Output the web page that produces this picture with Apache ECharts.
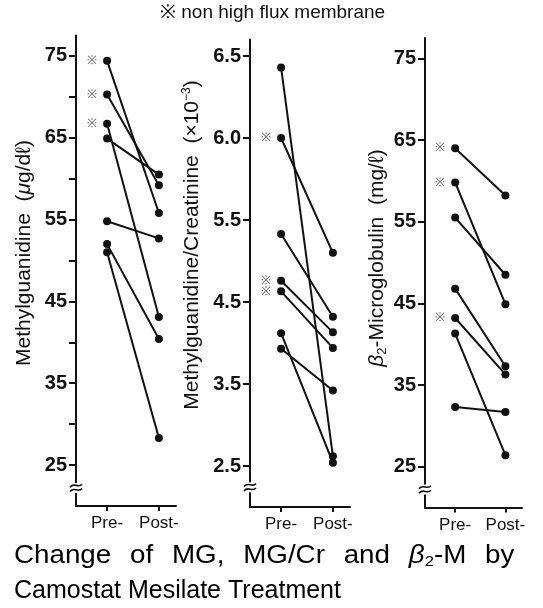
<!DOCTYPE html>
<html><head><meta charset="utf-8">
<script src="https://cdn.jsdelivr.net/npm/echarts@6.0.0/dist/echarts.min.js"></script>
<style>html,body{margin:0;padding:0;background:#fff}#c{width:543px;height:608px}</style>
</head><body><div id="c"></div>
<script>
// ---- data ----
const timeLabels = ['Pre-', 'Post-'];

const mgPre  = [74.4, 70.3, 66.7, 64.9, 54.8, 52.0, 51.0];
const mgPost = [55.8, 59.2, 43.1, 60.5, 52.7, 40.4, 28.3];
const mgFlag = [1, 1, 1, 0, 0, 0, 0];
const mgLabelTicks = [25, 35, 45, 55, 65, 75];
const mgAllTicks = [25, 30, 35, 40, 45, 50, 55, 60, 65, 70, 75];

const crPre  = [6.43, 6.00, 5.33, 4.76, 4.63, 4.12, 3.93];
const crPost = [2.62, 5.10, 4.32, 4.13, 3.94, 2.54, 3.42];
const crFlag = [0, 1, 0, 1, 1, 0, 0];
const crTickLabels = ['2.5', '3.5', '4.5', '5.5', '6.0', '6.5'];

const b2Pre  = [64.0, 59.8, 55.5, 46.8, 43.2, 41.3, 32.3];
const b2Post = [58.2, 44.9, 48.5, 37.3, 36.3, 26.4, 31.7];
const b2Flag = [1, 1, 0, 0, 1, 0, 0];
const b2LabelTicks = [25, 35, 45, 55, 65, 75];

// the MG/Cr axis is drawn with equal spacing between printed labels
function crToAxis(v) { return v >= 5.5 ? 3 + (v - 5.5) / 0.5 : 2 + (v - 4.5); }

const FONT = '"Liberation Sans", Arial, sans-serif';
const NARROW = '"Liberation Sans Narrow", "Liberation Sans", Arial, sans-serif';
const INK = '#111';

const chart = echarts.init(document.getElementById('c'));

const grids = [
  { left: 76, width: 100, top: 35.5, height: 470.4 },
  { left: 250, width: 100, top: 39.6, height: 467.4 },
  { left: 425, width: 97, top: 37.9, height: 469.6 }
];

function xAxisCfg(i) {
  return {
    type: 'value', gridIndex: i, min: -0.6, max: 1.33,
    splitLine: { show: false },
    axisLine: { onZero: false, lineStyle: { color: INK, width: 2 } },
    axisTick: { customValues: [0, 1], length: 5, lineStyle: { color: INK, width: 2 } },
    axisLabel: { customValues: [0, 1], formatter: v => timeLabels[Math.round(v)],
      fontSize: 17, color: INK, fontFamily: FONT, margin: 9 }
  };
}
function yAxisCfg(i, min, max, ticks, labels, fmt) {
  return {
    type: 'value', gridIndex: i, min: min, max: max,
    splitLine: { show: false },
    axisLine: { onZero: false, lineStyle: { color: INK, width: 2 } },
    axisTick: { customValues: ticks, length: 7, lineStyle: { color: INK, width: 2 } },
    axisLabel: { customValues: labels, formatter: fmt || (v => String(v)),
      fontSize: 20, fontWeight: 'bold', color: INK, fontFamily: NARROW, margin: 9 }
  };
}

const series = [];
function addPanel(i, pre, post, flag, tf) {
  pre.forEach((p, k) => {
    series.push({
      type: 'line', xAxisIndex: i, yAxisIndex: i,
      symbol: 'circle', symbolSize: 8, animation: false,
      lineStyle: { color: INK, width: 2 },
      itemStyle: { color: INK },
      data: [
        { value: [0, tf(p)], label: { show: !!flag[k], position: 'left', distance: 6,
            formatter: '※', fontSize: 12, color: '#555' } },
        { value: [1, tf(post[k])] }
      ]
    });
  });
}
const id = v => v;
addPanel(0, mgPre, mgPost, mgFlag, id);
addPanel(1, crPre, crPost, crFlag, crToAxis);
addPanel(2, b2Pre, b2Post, b2Flag, id);

chart.setOption({
  animation: false,
  grid: grids,
  xAxis: [xAxisCfg(0), xAxisCfg(1), xAxisCfg(2)],
  yAxis: [
    yAxisCfg(0, 20, 77.5, mgAllTicks, mgLabelTicks),
    yAxisCfg(1, -0.5, 5.2, [0, 1, 2, 3, 4, 5], [0, 1, 2, 3, 4, 5], v => crTickLabels[Math.round(v)]),
    yAxisCfg(2, 20, 77.5, b2LabelTicks, b2LabelTicks)
  ],
  series: series
});

// decorations: axis breaks + texts
const gfx = [];
const breakVals = [22.2, -0.26, 22.2];
breakVals.forEach((bv, i) => {
  const p = chart.convertToPixel({ gridIndex: i }, [-0.6, bv]);
  const x = p[0], y = p[1];
  gfx.push({ type: 'rect', shape: { x: x - 4, y: y - 5, width: 8, height: 10 }, style: { fill: '#fff' }, z: 100 });
  [-2.2, 2.2].forEach(dy => {
    gfx.push({ type: 'bezierCurve', z: 101,
      shape: { x1: x - 6, y1: y + dy + 1.5, cpx1: x - 2, cpy1: y + dy - 4, cpx2: x + 2, cpy2: y + dy + 3, x2: x + 6, y2: y + dy - 1.5 },
      style: { stroke: INK, lineWidth: 1.6, fill: null } });
  });
});

function vText(x, y, text, rich) {
  gfx.push({ type: 'text', x: x, y: y, rotation: Math.PI / 2, z: 50,
    style: { text: text, rich: rich, font: '21px ' + FONT, fill: INK, align: 'center', verticalAlign: 'middle' } });
}
const richBase = {
  a: { fontSize: 21, fontFamily: FONT, color: INK },
  i: { fontSize: 21, fontFamily: FONT, color: INK, fontStyle: 'italic' },
  sub: { fontSize: 13, fontFamily: FONT, color: INK, padding: [10, 0, 0, 0] },
  sup: { fontSize: 12, fontFamily: FONT, color: INK, padding: [0, 0, 10, 0] }
};
vText(24, 253, '{a|Methylguanidine  (}{i|μ}{a|g/dℓ)}', richBase);
vText(192, 245, '{a|Methylguanidine/Creatinine  (×10}{sup|−3}{a|)}', richBase);
vText(377, 258, '{i|β}{sub|2}{a|-Microglobulin  (mg/ℓ)}', richBase);

gfx.push({ type: 'text', x: 160, y: 13, style: { text: '※ non high flux membrane', font: '19px ' + FONT, fill: INK, verticalAlign: 'middle' } });

const richTitle = {
  a: { fontSize: 25, fontFamily: FONT, color: INK },
  w: { fontSize: 25, fontFamily: FONT, color: INK, padding: [0, 10, 0, 0] },
  i: { fontSize: 25, fontFamily: FONT, color: INK, fontStyle: 'italic' },
  sub: { fontSize: 15, fontFamily: FONT, color: INK, padding: [11, 0, 0, 0] }
};
gfx.push({ type: 'text', x: 14, y: 556, scaleX: 1.11, originX: 0, originY: 0,
  style: { text: '{w|Change }{w|of }{w|MG, }{w|MG/Cr }{w|and }{i|β}{sub|2}{w|-M }{a|by}', rich: richTitle, verticalAlign: 'middle', align: 'left' } });
gfx.push({ type: 'text', x: 14, y: 591, style: { text: '{a|Camostat Mesilate Treatment}', rich: richTitle, verticalAlign: 'middle', align: 'left' } });

chart.setOption({ graphic: gfx });
</script>
</body></html>
